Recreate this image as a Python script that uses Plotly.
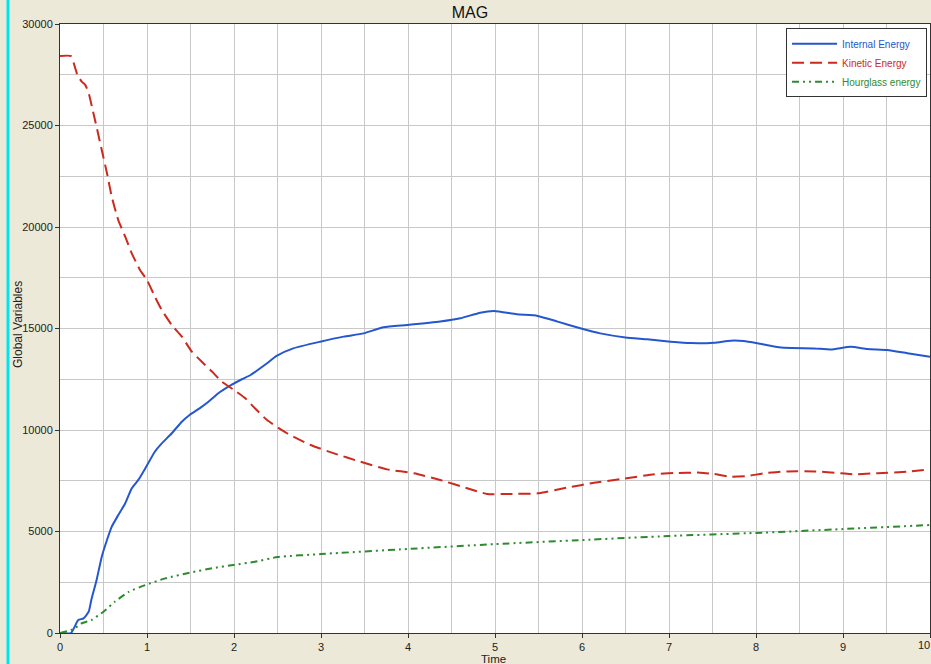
import plotly.graph_objects as go

# ---- data ----
t_internal = [0, 0.127, 0.21, 0.27, 0.33, 0.36, 0.42, 0.48, 0.54, 0.595, 0.67, 0.75, 0.825, 0.90, 0.98,
              1.09, 1.17, 1.285, 1.40, 1.49, 1.60, 1.71, 1.82, 1.95, 2.09, 2.19, 2.38, 2.49, 2.68, 2.99,
              3.26, 3.49, 3.72, 3.99, 4.37, 4.60, 4.83, 4.99, 5.25, 5.49, 5.72, 5.98, 6.21, 6.50, 6.75,
              7.02, 7.25, 7.52, 7.71, 7.86, 8.02, 8.29, 8.67, 8.86, 9.09, 9.28, 9.51, 9.74, 10.0]
internal = [0, 0, 640, 720, 1050, 1630, 2600, 3760, 4580, 5240, 5810, 6390, 7130, 7540, 8110,
            8930, 9340, 9840, 10410, 10740, 11050, 11400, 11810, 12170, 12500, 12710, 13290, 13650, 14020, 14350,
            14600, 14760, 15060, 15170, 15340, 15500, 15780, 15860, 15700, 15620, 15340, 15010, 14760, 14560, 14470,
            14350, 14280, 14300, 14400, 14380, 14270, 14060, 14020, 13970, 14100, 13990, 13940, 13780, 13610]

t_kinetic = [0, 0.127, 0.17, 0.20, 0.25, 0.29, 0.33, 0.38, 0.42, 0.48, 0.54, 0.595, 0.67, 0.75, 0.825,
             0.92, 1.0, 1.09, 1.17, 1.285, 1.40, 1.515, 1.63, 1.75, 1.86, 1.99, 2.13, 2.24, 2.38, 2.61,
             2.88, 3.15, 3.45, 3.76, 4.07, 4.37, 4.68, 4.91, 5.14, 5.49, 5.83, 6.14, 6.48, 6.83, 7.06,
             7.36, 7.52, 7.71, 7.90, 8.09, 8.36, 8.67, 8.98, 9.13, 9.40, 9.74, 10.0]
kinetic = [28420, 28420, 27900, 27490, 27160, 27000, 26590, 25680, 24940, 23790, 22650, 21490, 20340, 19520, 18700,
           17880, 17390, 16570, 15910, 15170, 14600, 13860, 13360, 12870, 12380, 12000, 11560, 11070, 10490, 9840,
           9260, 8850, 8440, 8060, 7870, 7540, 7130, 6850, 6850, 6880, 7160, 7400, 7600, 7820, 7880,
           7900, 7830, 7700, 7730, 7870, 7960, 7960, 7870, 7820, 7870, 7950, 8060]

t_hourglass = [0, 0.15, 0.25, 0.36, 0.50, 0.63, 0.79, 0.98, 1.21, 1.49, 1.75, 1.99, 2.24, 2.5,
               3.0, 4.0, 5.0, 6.0, 7.0, 8.0, 9.0, 10.0]
hourglass = [0, 180, 480, 640, 1050, 1540, 2030, 2360, 2690, 2970, 3190, 3350, 3510, 3740,
             3890, 4140, 4380, 4580, 4780, 4930, 5120, 5320]

title_text = "MAG"
x_title = "Time"
y_title = "Global Variables"
last_x_label = "10"
names = ["Internal Energy", "Kinetic Energy", "Hourglass energy"]
colors = ["#2457CF", "#CC2A1E", "#2E8A2E"]

FONT = "Liberation Sans, Arial"

fig = go.Figure()
fig.add_trace(go.Scatter(x=t_internal, y=internal, mode="lines",
                         name=f"<span style='color:{colors[0]}'>{names[0]}</span>",
                         line=dict(color=colors[0], width=2, shape="spline", smoothing=0.5)))
fig.add_trace(go.Scatter(x=t_kinetic, y=kinetic, mode="lines",
                         name=f"<span style='color:{colors[1]}'>{names[1]}</span>",
                         line=dict(color=colors[1], width=2, dash="12px,6px", shape="spline", smoothing=0.5)))
fig.add_trace(go.Scatter(x=t_hourglass, y=hourglass, mode="lines",
                         name=f"<span style='color:{colors[2]}'>{names[2]}</span>",
                         line=dict(color=colors[2], width=2, dash="7px,4px,2px,4px,2px,4px",
                                   shape="spline", smoothing=0.5)))

axis_common = dict(showline=True, linecolor="#333333", linewidth=1, mirror=True,
                   ticks="outside", ticklen=4, tickcolor="#333333",
                   showgrid=True, gridcolor="#C8C8C8", gridwidth=1, zeroline=False,
                   tickfont=dict(family=FONT, size=11, color="#222222"))

fig.update_xaxes(range=[0, 10], dtick=1, tick0=0,
                 minor=dict(dtick=0.5, showgrid=True, gridcolor="#C8C8C8", ticks=""),
                 **axis_common)
fig.update_yaxes(range=[0, 30000], dtick=5000, tick0=0, tickformat="d",
                 minor=dict(dtick=2500, showgrid=True, gridcolor="#C8C8C8", ticks=""),
                 **axis_common)

# axis titles placed as annotations for exact placement
fig.add_annotation(text=x_title, xref="paper", yref="paper", x=(493 - 60) / 870, y=-(658.5 - 633) / 609,
                   showarrow=False, xanchor="center", yanchor="middle",
                   font=dict(family=FONT, size=11.5, color="#222222"))
fig.add_annotation(text=y_title, xref="paper", yref="paper", x=(18 - 60) / 870, y=(633 - 325) / 609,
                   showarrow=False, xanchor="center", yanchor="middle", textangle=-90,
                   font=dict(family=FONT, size=12, color="#222222"))
# the last x tick label, kept inside the window edge
fig.add_annotation(text=last_x_label, xref="x", yref="paper", x=10, y=-(645 - 633) / 609,
                   showarrow=False, xanchor="right", yanchor="middle", xshift=2,
                   font=dict(family=FONT, size=11, color="#222222"))

fig.add_shape(type="line", xref="paper", yref="paper",
              x0=(8 - 60) / 870, x1=(8 - 60) / 870, y0=-31 / 609, y1=24 / 609 + 1,
              line=dict(color="#00E5EE", width=3))

fig.update_layout(
    width=931, height=664,
    margin=dict(l=60, r=1, t=24, b=31),
    paper_bgcolor="#ECE9D8", plot_bgcolor="white",
    title=dict(text=title_text, x=470 / 931, xanchor="center", y=1 - 12 / 664, yanchor="middle",
               font=dict(family=FONT, size=16, color="#111111")),
    showlegend=True,
    legend=dict(x=0.9966, xanchor="right", y=0.993, yanchor="top",
                bgcolor="white", bordercolor="#333333", borderwidth=1,
                font=dict(family=FONT, size=10),
                tracegroupgap=0, itemwidth=45),
)

fig.write_html("out.html", config={"displayModeBar": False},
               post_script="document.body.style.margin='0';document.body.style.overflow='hidden';")
